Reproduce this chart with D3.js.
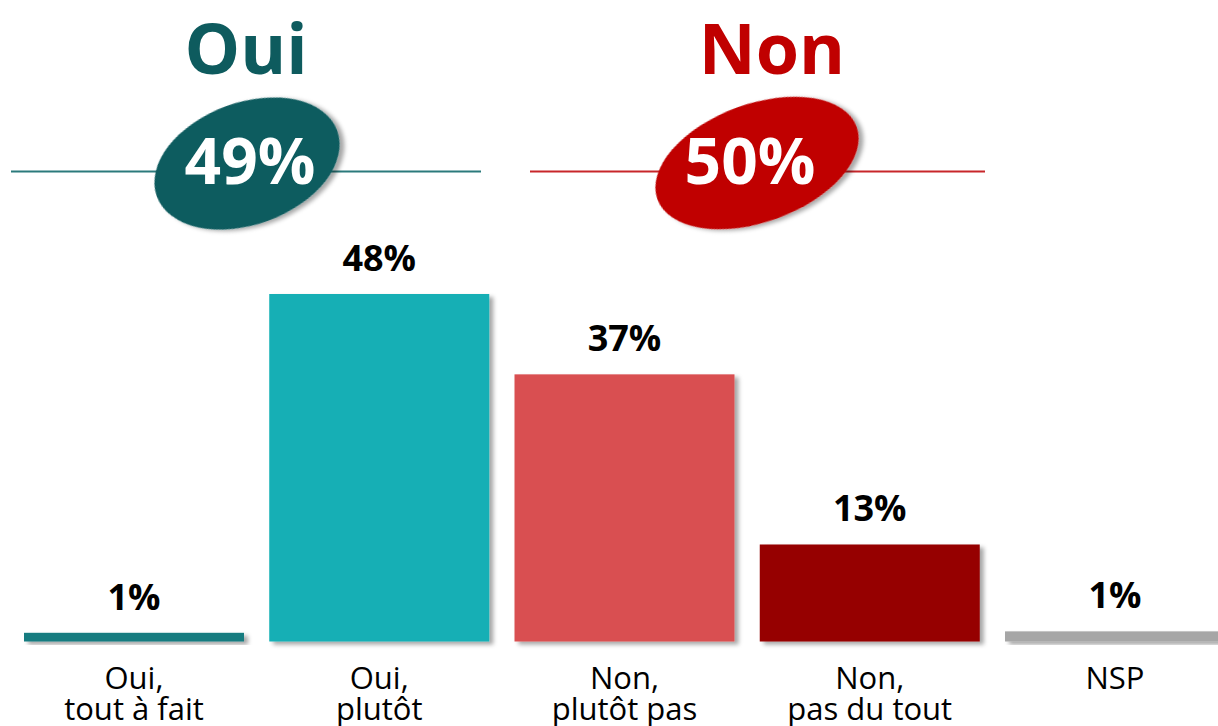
<!DOCTYPE html>
<html>
<head>
<meta charset="utf-8">
<script src="https://cdn.jsdelivr.net/npm/d3@7"></script>
<style>
  body { margin: 0; background: #fff; }
  svg { display: block; font-family: "Open Sans", sans-serif; }
  .value { font-weight: 700; font-size: 36px; fill: #000; text-anchor: middle; }
  .cat { font-size: 31px; fill: #000; text-anchor: middle; }
  .head { font-weight: 700; font-size: 70px; text-anchor: middle; }
  .pct { font-weight: 700; font-size: 64px; fill: #fff; text-anchor: middle; }
</style>
</head>
<body>
<div id="chart"></div>
<script>

// data
var categories = ["Oui, tout à fait", "Oui, plutôt", "Non, plutôt pas", "Non, pas du tout", "NSP"];
var values = [1.2, 48, 36.9, 13.4, 1.4];
var barColors = ["#147b80", "#13afb5", "#d94f51", "#960000", "#a6a6a6"];
var groups = ["Oui", "Non"];
var groupTotals = [49, 50];
var groupColors = ["#0e5b5e", "#c00000"];
var groupLineColors = ["#2b7a7c", "#c8262a"];

var width = 1218;
var height = 726;

var svg = d3.select("#chart")
  .append("svg")
  .attr("width", width)
  .attr("height", height);

// drop shadow
var defs = svg.append("defs");
defs.append("filter")
  .attr("id", "shadow")
  .attr("x", "-10%").attr("y", "-10%")
  .attr("width", "130%").attr("height", "140%")
  .append("feDropShadow")
  .attr("dx", 4).attr("dy", 3)
  .attr("stdDeviation", 2)
  .attr("flood-color", "#000")
  .attr("flood-opacity", 0.35);

// scales
var xScale = d3.scaleBand()
  .domain(categories)
  .range([24, 1225])
  .paddingInner(0.103)
  .paddingOuter(0);

var yScale = d3.scaleLinear()
  .domain([0, 48])
  .range([641.5, 294]);

// bars
svg.selectAll(".bar")
  .data(categories)
  .enter()
  .append("rect")
  .attr("class", "bar")
  .attr("x", function(d) { return xScale(d); })
  .attr("y", function(d, i) { return yScale(values[i]); })
  .attr("width", xScale.bandwidth())
  .attr("height", function(d, i) { return yScale(0) - yScale(values[i]); })
  .style("fill", function(d, i) { return barColors[i]; })
  .attr("filter", "url(#shadow)");

// value labels
var fmt = d3.format(".0f");
svg.selectAll(".value")
  .data(categories)
  .enter()
  .append("text")
  .attr("class", "value")
  .attr("x", function(d) { return xScale(d) + xScale.bandwidth() / 2; })
  .attr("y", function(d, i) { return yScale(values[i]) - 23; })
  .text(function(d, i) { return fmt(values[i]) + "%"; });

// category labels (two lines)
var cats = svg.selectAll(".cat")
  .data(categories)
  .enter()
  .append("text")
  .attr("class", "cat")
  .attr("x", function(d) { return xScale(d) + xScale.bandwidth() / 2; })
  .attr("y", 689);

cats.each(function(d) {
  var parts = d.split(", ");
  var t = d3.select(this);
  var x = t.attr("x");
  parts.forEach(function(p, j) {
    t.append("tspan")
      .attr("x", x)
      .attr("dy", j == 0 ? 0 : 31)
      .text(j < parts.length - 1 ? p + "," : p);
  });
});

// group headers: Oui / Non with ellipse and line
var groupX = [246, 772];
var lineX = [[11, 481], [530, 985]];
var ellipse = [{cx: 247, cy: 163.5, rx: 96, ry: 61}, {cx: 757, cy: 163, rx: 106, ry: 59}];
var pctX = [250, 750];

groups.forEach(function(g, i) {
  svg.append("line")
    .attr("x1", lineX[i][0])
    .attr("x2", lineX[i][1])
    .attr("y1", 171.5)
    .attr("y2", 171.5)
    .style("stroke", groupLineColors[i])
    .style("stroke-width", 2);

  svg.append("ellipse")
    .attr("cx", 0).attr("cy", 0)
    .attr("rx", ellipse[i].rx)
    .attr("ry", ellipse[i].ry)
    .attr("transform", "translate(" + ellipse[i].cx + "," + ellipse[i].cy + ") rotate(-20)")
    .style("fill", groupColors[i])
    .attr("filter", "url(#shadow)");

  svg.append("text")
    .attr("class", "pct")
    .attr("x", pctX[i])
    .attr("y", 184)
    .text(groupTotals[i] + "%");

  svg.append("text")
    .attr("class", "head")
    .attr("x", groupX[i])
    .attr("y", 74)
    .style("fill", groupColors[i])
    .text(g);
});

</script>
</body>
</html>
